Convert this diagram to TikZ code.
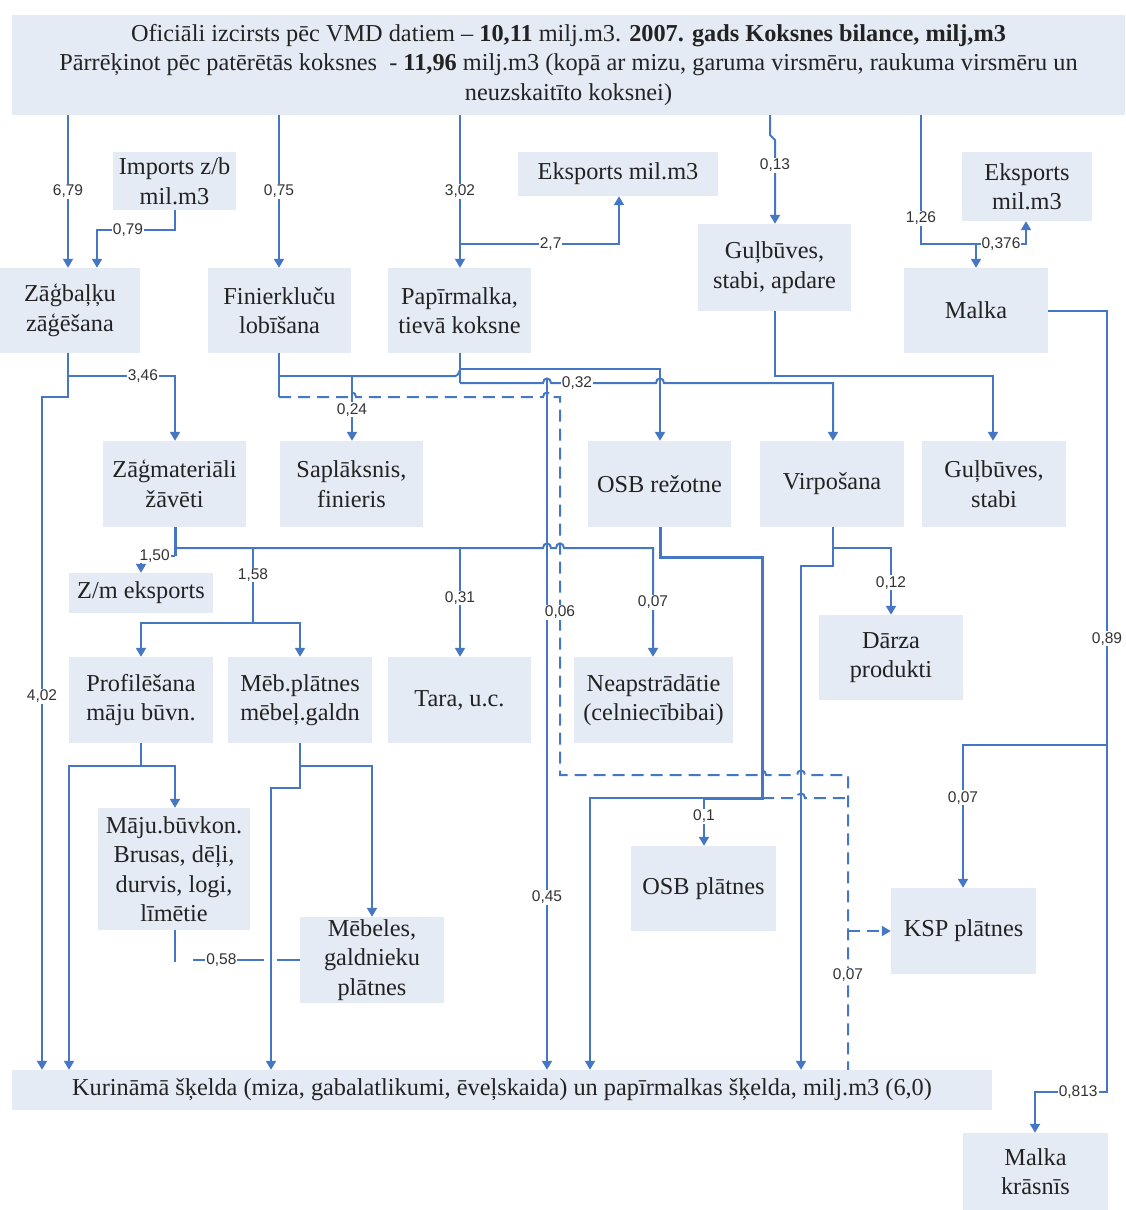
\documentclass[tikz,border=0pt]{standalone}
\usepackage{fontspec}
\setmainfont{Liberation Serif}
\newfontfamily\lblfamily{Liberation Sans}
\usetikzlibrary{arrows.meta}
\definecolor{boxfill}{HTML}{E5EBF5}
\definecolor{lineblue}{HTML}{4677C4}
\definecolor{txt}{HTML}{222222}
\definecolor{lbltxt}{HTML}{333333}
% small hump where a line jumps over another one
\newcommand\hop[2]{-- (#1-4,#2) .. controls (#1-4,#2-6) and (#1+4,#2-6) .. (#1+4,#2)}
\begin{document}
\begin{tikzpicture}[x=1pt,y=-1pt,
  box/.style={fill=boxfill, inner sep=0pt, align=center, text=txt,
    font=\fontsize{24.3}{29.5}\selectfont},
  ln/.style={draw=lineblue, line width=2pt},
  thick ln/.style={draw=lineblue, line width=3pt},
  arr/.style={ln, -{Triangle[width=10pt,length=9pt]}},
  dsh/.style={ln, dash pattern=on 12pt off 7pt},
  lbl/.style={font=\lblfamily\fontsize{15.5}{17}\selectfont, fill=white, inner sep=1pt, text=lbltxt},
]
\useasboundingbox (0,0) rectangle (1125,1210);

% ---------- boxes ----------
\node[box, minimum width=1113pt, minimum height=100pt] (top) at (568.5,65)
  {Oficiāli izcirsts pēc VMD datiem – \textbf{10,11} milj.m3. \textbf{2007. gads Koksnes bilance, milj,m3}\\
   Pārrēķinot pēc patērētās koksnes \ - \textbf{11,96} milj.m3 (kopā ar mizu, garuma virsmēru, raukuma virsmēru un\\
   neuzskaitīto koksnei)};
\node[box, minimum width=123pt, minimum height=58pt] (imp) at (174.5,181) {Imports z/b\\mil.m3};
\node[box, minimum width=200pt, minimum height=44pt] (eksm) at (618,174) {Eksports mil.m3};
\node[box, minimum width=130pt, minimum height=69pt] (eksr) at (1027,186.5) {Eksports\\mil.m3};
\node[box, minimum width=140pt, minimum height=85pt] (zb) at (70,310.5) {Zāģbaļķu\\zāģēšana};
\node[box, minimum width=143pt, minimum height=85pt] (fin) at (279.5,310.5) {Finierkluču\\lobīšana};
\node[box, minimum width=143pt, minimum height=85pt] (pap) at (459.5,310.5) {Papīrmalka,\\tievā koksne};
\node[box, minimum width=153pt, minimum height=87pt] (gulap) at (774.5,267.5) {Guļbūves,\\stabi, apdare};
\node[box, minimum width=144pt, minimum height=85pt] (malka) at (976,310.5) {Malka};
\node[box, minimum width=143pt, minimum height=86pt] (zm) at (174.5,484) {Zāģmateriāli\\žāvēti};
\node[box, minimum width=143pt, minimum height=86pt] (sap) at (351.5,484) {Saplāksnis,\\finieris};
\node[box, minimum width=143pt, minimum height=86pt] (osbr) at (659.5,484) {OSB režotne};
\node[box, minimum width=144pt, minimum height=86pt] (virp) at (832,484) {Virpošana};
\node[box, minimum width=144pt, minimum height=86pt] (gulst) at (994,484) {Guļbūves,\\stabi};
\node[box, minimum width=144pt, minimum height=40pt] (zmeks) at (141,593) {Z/m eksports};
\node[box, minimum width=144pt, minimum height=86pt] (prof) at (141,700) {Profilēšana\\māju būvn.};
\node[box, minimum width=144pt, minimum height=86pt] (meb) at (300,700) {Mēb.plātnes\\mēbeļ.galdn};
\node[box, minimum width=143pt, minimum height=86pt] (tara) at (459.5,700) {Tara, u.c.};
\node[box, minimum width=159pt, minimum height=86pt] (neap) at (653.5,700) {Neapstrādātie\\(celniecībibai)};
\node[box, minimum width=144pt, minimum height=85pt] (darza) at (891,657.5) {Dārza\\produkti};
\node[box, minimum width=152pt, minimum height=122pt] (maju) at (174,869) {Māju.būvkon.\\Brusas, dēļi,\\durvis, logi,\\līmētie};
\node[box, minimum width=144pt, minimum height=86pt] (mebeles) at (372,960) {Mēbeles,\\galdnieku\\plātnes};
\node[box, minimum width=145pt, minimum height=85pt] (osbp) at (703.5,888.5) {OSB plātnes};
\node[box, minimum width=145pt, minimum height=86pt] (ksp) at (963.5,931) {KSP plātnes};
\node[box, minimum width=980pt, minimum height=40pt] (kur) at (502,1090)
  {Kurināmā šķelda (miza, gabalatlikumi, ēveļskaida) un papīrmalkas šķelda, milj.m3 (6,0)};
\node[box, minimum width=145pt, minimum height=77pt] (malkak) at (1035.5,1171.5) {Malka\\krāsnīs};

% ---------- inputs from the felling total ----------
\draw[arr] (top.south -| 68,0) -- node[lbl]{6,79} (zb.north -| 68,0);
\draw[arr] (imp.south) |- (128,230) node[lbl]{0,79} -| (zb.north -| 97,0);
\draw[arr] (top.south -| 279,0) -- node[lbl]{0,75} (fin.north -| 279,0);
\draw[arr] (top.south -| 460,0) -- node[lbl]{3,02} (pap.north -| 460,0);
\draw[arr] (460,244) -- node[lbl, pos=0.57]{2,7} (619,244) -- (eksm.south -| 619,0);
\draw[arr] (top.south -| 770,0) -- (770,135) -- (775,140) -- node[lbl, pos=0.3]{0,13} (gulap.north -| 775,0);
\draw[ln] (top.south -| 921,0) -- node[lbl, pos=0.8]{1,26} (921,244) -- (976,244);
\draw[arr] (976,244) -- (malka.north -| 976,0);
\draw[arr] (976,244) -- node[lbl]{0,376} (1026,244) -- (eksr.south -| 1026,0);

% ---------- firewood ----------
\draw[arr] (malka.east) -- (1107,310.5) -- node[lbl, pos=0.42]{0,89} (1107,1092)
  -- node[lbl, pos=0.4]{0,813} (1035,1092) -- (malkak.north -| 1035,0);
\draw[arr] (1107,745) -- (963,745) -- node[lbl, pos=0.37]{0,07} (ksp.north -| 963,0);

% ---------- log houses ----------
\draw[arr] (gulap.south -| 775,0) |- (993,376) -- (gulst.north -| 993,0);

% ---------- sawlogs ----------
\draw[arr] (zb.south -| 68,0) -- (68,376) -- node[lbl, pos=0.7]{3,46} (175,376) -- (zm.north -| 175,0);
\draw[arr] (68,376) -- (68,397) -- (42,397) -- node[lbl, pos=0.445]{4,02} (kur.north -| 42,0);

% ---------- veneer logs ----------
\draw[ln] (fin.south -| 279,0) -- (279,397);
\draw[arr] (279,376) -- (352,376) -- node[lbl, pos=0.52]{0,24} (sap.north -| 352,0);
\draw[ln] (352,376) -- (455,376) .. controls (458,376) and (459,372) .. (460,370);
\draw[arr] (547,379) -- node[lbl, pos=0.75]{0,45} (kur.north -| 547,0);
\draw[dsh] (279,397) \hop{352}{397} \hop{547}{397} -- (560,397)
  -- node[lbl, pos=0.57]{0,06} (560,775) \hop{762}{775} \hop{801}{775} -- (848,775)
  -- node[lbl, pos=0.68]{0,07} (kur.north -| 848,0);
\draw[dsh, -{Triangle[width=10pt,length=9pt]}] (848,931) -- (ksp.west);

% ---------- pulpwood ----------
\draw[ln] (pap.south -| 460,0) -- (460,383);
\draw[arr] (460,369) -- (660,369) -- (osbr.north -| 660,0);
\draw[arr] (460,383) \hop{547}{383} -- (577,383) node[lbl]{0,32} \hop{660}{383} -- (833,383) -- (virp.north -| 833,0);

% ---------- sawn timber ----------
\draw[thick ln] (zm.south -| 175,0) -- (175,556);
\draw[arr] (175,548) \hop{547}{548} \hop{560}{548} -- (653,548) -- node[lbl]{0,07} (neap.north -| 653,0);
\draw[arr] (175,556) -- node[lbl, pos=0.6]{1,50} (141,556) -- (zmeks.north -| 141,0);
\draw[ln] (253,548) -- node[lbl, pos=0.36]{1,58} (253,623);
\draw[arr] (253,623) -- (141,623) -- (prof.north -| 141,0);
\draw[arr] (253,623) -- (300,623) -- (meb.north -| 300,0);
\draw[arr] (460,548) -- node[lbl, pos=0.46]{0,31} (tara.north -| 460,0);

% ---------- profiling and furniture boards ----------
\draw[ln] (prof.south -| 141,0) -- (141,766);
\draw[arr] (141,766) -- (175,766) -- (maju.north -| 175,0);
\draw[arr] (141,766) -- (69,766) -- (kur.north -| 69,0);
\draw[arr] (meb.south -| 300,0) -- (300,766) -- (372,766) -- (mebeles.north -| 372,0);
\draw[arr] (300,766) -- (300,788) -- (271,788) -- (kur.north -| 271,0);
\draw[ln] (maju.south -| 175,0) -- (175,962);
\draw[ln] (193,960) -- node[lbl, pos=0.4]{0,58} (264,960);
\draw[ln] (277,960) -- (mebeles.west);

% ---------- OSB ----------
\draw[thick ln] (osbr.south -| 660,0) -- (660,557) -- (762,557) -- (762,798) -- (704,798);
\draw[arr] (704,798) -- (590,798) -- (kur.north -| 590,0);
\draw[arr] (704,798) -- node[lbl, pos=0.38]{0,1} (osbp.north -| 704,0);
\draw[dsh] (762,798) \hop{801}{798} -- (848,798);

% ---------- turning ----------
\draw[arr] (virp.south -| 833,0) -- (833,548) -- (891,548) -- node[lbl, pos=0.52]{0,12} (darza.north -| 891,0);
\draw[arr] (833,548) -- (833,566) -- (801,566) -- (kur.north -| 801,0);
\end{tikzpicture}
\end{document}
